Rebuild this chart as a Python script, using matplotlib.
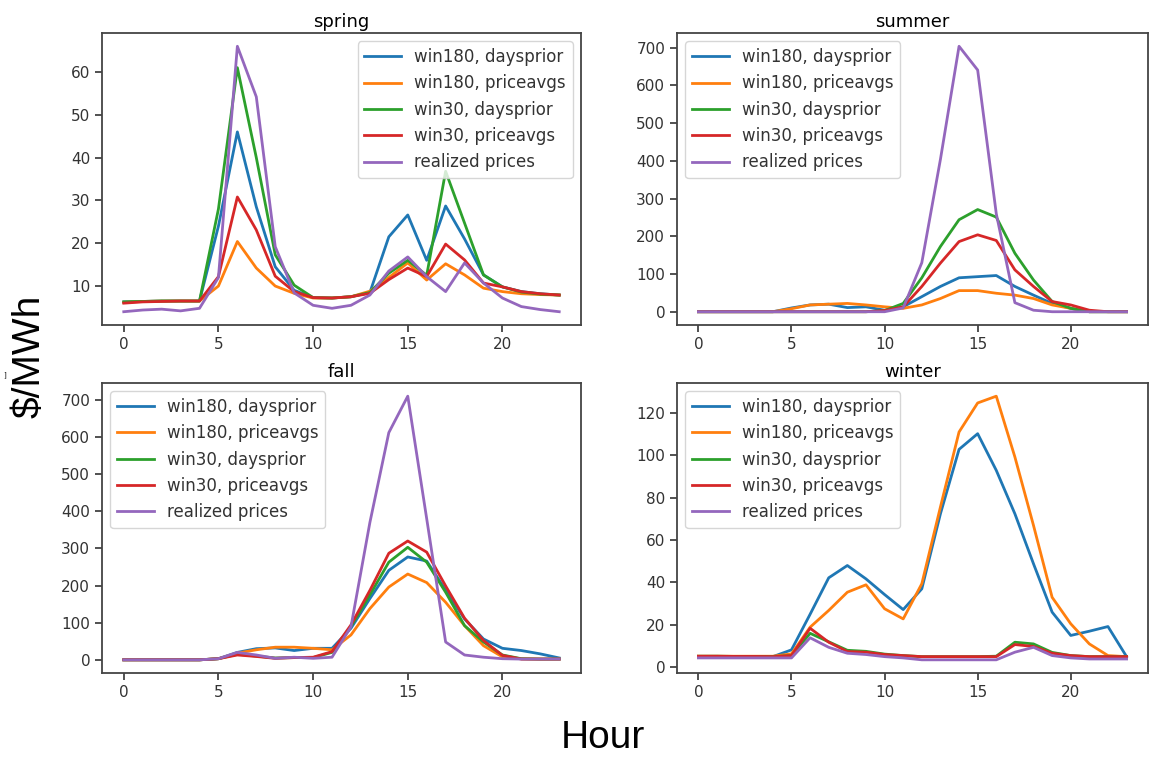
import numpy as np
import matplotlib
matplotlib.use("Agg")
import matplotlib.pyplot as plt

hours = np.arange(24)
labels = ['win180, daysprior', 'win180, priceavgs', 'win30, daysprior',
          'win30, priceavgs', 'realized prices']
colors = ['#1f77b4', '#ff7f0e', '#2ca02c', '#d62728', '#9467bd']

# spring
spring_w180_dp = [6.3, 6.4, 6.5, 6.5, 6.5, 24, 46, 28.5, 14.5, 9, 7.3, 7.2, 7.5, 8.5, 21.5, 26.6, 16, 28.7, 21, 12.6, 9.8, 8.7, 8.2, 7.9]
spring_w180_pa = [6.2, 6.4, 6.5, 6.5, 6.5, 10, 20.4, 14.2, 10, 8.3, 7.2, 7.2, 7.5, 8.8, 12, 15.4, 11.4, 15.2, 12.6, 9.5, 8.7, 8.2, 8, 7.9]
spring_w30_dp = [6.3, 6.4, 6.5, 6.5, 6.5, 28, 61, 40, 17.3, 10.2, 7.3, 7.2, 7.5, 8.5, 13, 16, 12.5, 36.8, 24.7, 12.6, 9.8, 8.6, 8.1, 7.9]
spring_w30_pa = [6.0, 6.3, 6.4, 6.5, 6.5, 12.2, 30.8, 23.1, 12.3, 8.7, 7.3, 7.2, 7.5, 8.3, 11.5, 14.2, 12.2, 19.8, 16.1, 10.7, 9.8, 8.7, 8.2, 7.9]
spring_real = [4.0, 4.4, 4.6, 4.2, 4.8, 12, 66, 54.2, 19.2, 8.4, 5.5, 4.8, 5.5, 7.9, 13.5, 16.8, 12.2, 8.7, 15.4, 10.7, 7.2, 5.2, 4.5, 4.0]

# summer
summer_w180_dp = [0, 0, 0, 0, 0, 10, 18, 20, 11, 13, 4, 13, 40, 67, 90, 93, 96, 67, 44, 22, 9, 0, 0, 0]
summer_w180_pa = [0, 0, 0, 0, 0, 8, 18, 20, 22, 18, 13, 9, 18, 35, 56, 56, 49, 44, 35, 18, 9, 0, 0, 0]
summer_w30_dp = [0, 0, 0, 0, 0, 0, 0, 0, 0, 0, 3, 22, 90, 173, 244, 271, 251, 155, 84, 27, 9, 0, 0, 0]
summer_w30_pa = [0, 0, 0, 0, 0, 0, 0, 0, 0, 0, 3, 13, 67, 129, 186, 204, 189, 111, 67, 27, 18, 4, 0, 0]
summer_real = [0, 0, 0, 0, 0, 0, 0, 0, 0, 0, 0, 10, 130, 404, 704, 641, 260, 24, 4, 0, 0, 0, 0, 0]

# fall
fall_w180_dp = [0, 0, 0, 0, 0, 3, 20, 30, 32, 25, 31, 31, 85, 165, 241, 277, 266, 188, 110, 56, 31, 25, 16, 5]
fall_w180_pa = [0, 0, 0, 0, 0, 3, 18, 27, 34, 34, 31, 27, 67, 138, 196, 231, 208, 155, 92, 38, 8, 3, 2, 2]
fall_w30_dp = [0, 0, 0, 0, 0, 3, 15, 10, 5, 6, 6, 20, 90, 175, 263, 303, 263, 182, 92, 48, 13, 3, 2, 2]
fall_w30_pa = [0, 0, 0, 0, 0, 3, 13, 9, 4, 6, 7, 22, 94, 187, 287, 320, 290, 199, 112, 52, 12, 2, 2, 2]
fall_real = [0, 0, 0, 0, 0, 3, 20, 13, 4, 7, 4, 7, 89, 370, 612, 710, 380, 48, 13, 7, 3, 2, 2, 2]

# winter
winter_w180_dp = [5, 5, 5, 5, 5, 8.2, 25, 42.2, 48, 41.7, 34.3, 27.2, 37, 72.4, 102.8, 110.2, 92.9, 72.4, 48.8, 26, 15, 17, 19.2, 5]
winter_w180_pa = [5.2, 5.2, 5.2, 5.2, 5.2, 6.3, 18.9, 26.8, 35.4, 38.9, 27.6, 22.8, 39.4, 75.6, 111, 124.7, 127.9, 99.2, 66.9, 33, 20.5, 11, 5.5, 5]
winter_w30_dp = [5.2, 5.2, 5.1, 5.1, 5, 5.5, 16, 12, 8, 7.5, 6.2, 5.5, 5, 5, 5, 5, 5.2, 11.8, 11, 7, 5.5, 5, 5, 5]
winter_w30_pa = [5.2, 5.2, 5.1, 5.1, 5, 5.5, 18.4, 11.8, 7.4, 7.1, 6, 5.5, 5, 5, 5, 5, 5, 10.7, 9.8, 6.6, 5.5, 5, 5, 5]
winter_real = [4.4, 4.4, 4.4, 4.4, 4.4, 4.4, 13.9, 9.4, 6.6, 6, 5, 4.4, 3.5, 3.5, 3.5, 3.5, 3.5, 7.1, 9.4, 5.5, 4.4, 3.9, 3.9, 3.9]

seasons = [
    ('spring', [spring_w180_dp, spring_w180_pa, spring_w30_dp, spring_w30_pa, spring_real], 'upper right'),
    ('summer', [summer_w180_dp, summer_w180_pa, summer_w30_dp, summer_w30_pa, summer_real], 'upper left'),
    ('fall', [fall_w180_dp, fall_w180_pa, fall_w30_dp, fall_w30_pa, fall_real], 'upper left'),
    ('winter', [winter_w180_dp, winter_w180_pa, winter_w30_dp, winter_w30_pa, winter_real], 'upper left'),
]

fig = plt.figure(figsize=(11.53, 7.57), dpi=100)
W, H = 1153, 757
# axes boxes in pixels: left, top, right, bottom
boxes = [(102, 33, 581, 325), (677, 33, 1148, 325),
         (102, 383, 581, 673), (677, 383, 1148, 673)]

for (name, series, loc), (l, t, r, b) in zip(seasons, boxes):
    ax = fig.add_axes([l / W, 1 - b / H, (r - l) / W, (b - t) / H])
    for vals, lab, c in zip(series, labels, colors):
        ax.plot(hours, vals, color=c, lw=2, label=lab)
    ax.set_title(name, fontsize=13, pad=4)
    ax.set_xticks([0, 5, 10, 15, 20])
    ax.tick_params(labelsize=11, length=5, width=1.2, color='#333333', labelcolor='#333333')
    for s in ax.spines.values():
        s.set_linewidth(1.3)
        s.set_color('#444444')
    leg = ax.legend(loc=loc, fontsize=12, handlelength=2.2, labelspacing=0.5,
                    borderaxespad=0.5)
    for txt in leg.get_texts():
        txt.set_color('#333333')

fig.text(30 / W, 1 - 356 / H, '$/MWh', rotation=90, ha='center', va='center',
         fontsize=28, family='Liberation Sans')
fig.text(603 / W, 1 - 738 / H, 'Hour', ha='center', va='center',
         fontsize=28, family='Liberation Sans')
fig.text(5 / W, 1 - 375 / H, ']', ha='center', va='center', fontsize=5)

fig.savefig('out.png', dpi=100)
